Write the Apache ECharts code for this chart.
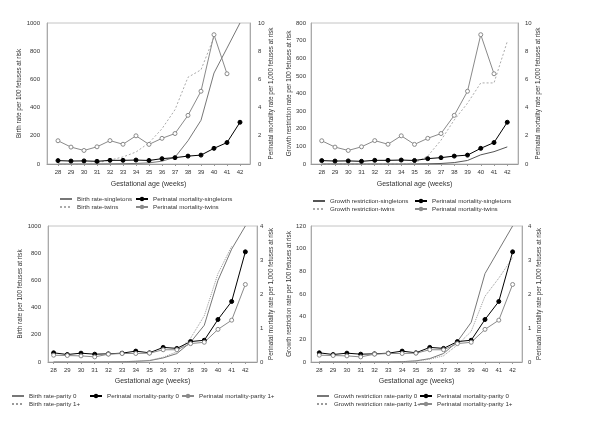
<!DOCTYPE html>
<html>
<head>
<meta charset="utf-8">
<script src="https://cdn.jsdelivr.net/npm/echarts@6/dist/echarts.min.js"></script>
<style>html,body{margin:0;padding:0;background:#fff}#c{width:600px;height:423px}</style>
</head>
<body>
<div id="c"></div>
<script>
// ---- data ----
const weeks = [28,29,30,31,32,33,34,35,36,37,38,39,40,41,42];

// Panel 1: birth rate per 100 fetuses at risk / perinatal mortality per 1,000
const birthSingletons = [0,0,0,0,1,2,4,8,20,48,165,310,645,822,1000];
const birthTwins = [0,0,0,8,28,50,85,150,250,385,615,668,900,null,null];
const mortSingletons = [0.24,0.21,0.22,0.19,0.26,0.26,0.28,0.25,0.38,0.45,0.56,0.63,1.11,1.52,2.96];
const mortTwins = [1.65,1.2,0.96,1.22,1.66,1.4,2.0,1.39,1.82,2.16,3.45,5.16,9.17,6.4,null];

// Panel 2: growth restriction rate per 100 fetuses at risk
const growthSingletons = [0,0,0,0,0,0,0,0,1,3,8,20,52,70,97];
const growthTwins = [0,0,0,0,0,0,1,6,45,135,250,345,460,460,695];

// Panel 3/4: parity
const birthParity0 = [0,0,0,0,1,2,5,10,30,62,145,270,600,830,1000];
const birthParity1 = [0,0,0,0,1,2,6,12,35,75,175,340,650,850,null];
const growthParity0 = [0,0,0,0,0,0,0.3,1,3,7.5,18,35,78,99,120];
const growthParity1 = [0,0,0,0,0,0,0.3,0.8,2.5,5.5,15,27,58,74,92];
const mortParity0 = [0.27,0.22,0.26,0.23,0.24,0.26,0.32,0.27,0.43,0.4,0.6,0.64,1.25,1.78,3.24];
const mortParity1 = [0.2,0.19,0.18,0.15,0.23,0.25,0.25,0.26,0.36,0.36,0.54,0.58,0.96,1.23,2.28];

// ---- helpers ----
const FONT = 'Liberation Sans';
const TXT = '#333';
function pts(arr){ const o=[]; arr.forEach((v,i)=>{ if(v!=null) o.push([weeks[i], v]); }); return o; }

const grids = [
  {left:47, top:23, width:203, height:141},
  {left:311, top:23, width:207, height:141},
  {left:48, top:226, width:209, height:136},
  {left:311, top:226, width:211, height:136}
].map(g=>Object.assign({show:true, borderColor:'#c4c4c4', borderWidth:1, backgroundColor:'transparent'}, g));

const xr = [[27.154,42.77],[27.19,42.81],[27.59,42.85],[27.4,42.68]];
const xGap = [16.5,16.5,15.5,15.5];
const xAxes = xr.map((r,i)=>({
  type:'value', gridIndex:i, min:r[0], max:r[1],
  name:'Gestational age (weeks)', nameLocation:'middle', nameGap:xGap[i],
  nameTextStyle:{fontFamily:FONT, fontSize:7, color:TXT},
  axisLine:{show:true, onZero:false, lineStyle:{color:'#999', width:1}},
  axisTick:{show:true, length:2, customValues:weeks, lineStyle:{color:'#999'}},
  axisLabel:{customValues:weeks, fontFamily:FONT, fontSize:6, color:TXT, margin:5},
  splitLine:{show:false}
}));

function yAx(grid, pos, max, interval, name, gap, margin){
  return {
    type:'value', gridIndex:grid, position:pos, min:0, max:max, interval:interval,
    name:name, nameLocation:'middle', nameRotate:90, nameGap:gap,
    nameTextStyle:{fontFamily:FONT, fontSize:6.3, color:TXT},
    axisLine:{show:true, lineStyle:{color:'#aaa', width:1}},
    axisTick:{show:false},
    axisLabel:{fontFamily:FONT, fontSize:6, color:TXT, margin:margin, formatter:v=>String(v)},
    splitLine:{show:false}
  };
}
const RT = 'Perinatal mortality rate per 1,000 fetuses at risk';
const yAxes = [
  yAx(0,'left',1000,200,'Birth rate per 100 fetuses at risk',22.5,7),
  yAx(0,'right',10,2,RT,16.5,8),
  yAx(1,'left',800,100,'Growth restriction rate per 100 fetuses at risk',17.5,5),
  yAx(1,'right',10,2,RT,15.5,7),
  yAx(2,'left',1000,200,'Birth rate per 100 fetuses at risk',23.5,7),
  yAx(2,'right',4,1,RT,11.5,3),
  yAx(3,'left',120,20,'Growth restriction rate per 100 fetuses at risk',17.5,5),
  yAx(3,'right',4,1,RT,14.5,6)
];

function rateLine(name, p, arr, type, color){
  return {type:'line', name:name, xAxisIndex:p, yAxisIndex:2*p, data:pts(arr),
    showSymbol:false, symbol:'none', animation:false, z:2,
    lineStyle:{color:color, width:1, type:type}, itemStyle:{color:color}};
}
function mortLine(name, p, arr, filled){
  const c = filled ? '#000' : '#8a8a8a';
  return {type:'line', name:name, xAxisIndex:p, yAxisIndex:2*p+1, data:pts(arr),
    symbol:'circle', symbolSize:4, showSymbol:true, animation:false, z:3,
    lineStyle:{color:c, width:1},
    itemStyle:{color: filled ? '#000' : '#fff', borderColor:c, borderWidth:1}};
}

const series = [
  rateLine('Birth rate-singletons',0,birthSingletons,'solid','#777'),
  rateLine('Birth rate-twins',0,birthTwins,[2,2],'#aaa'),
  mortLine('Perinatal mortality-singletons',0,mortSingletons,true),
  mortLine('Perinatal mortality-twins',0,mortTwins,false),

  rateLine('Growth restriction-singletons',1,growthSingletons,'solid','#555'),
  rateLine('Growth restriction-twins',1,growthTwins,[2,2],'#aaa'),
  mortLine('Perinatal mortality-singletons',1,mortSingletons,true),
  mortLine('Perinatal mortality-twins',1,mortTwins,false),

  rateLine('Birth rate-parity 0',2,birthParity0,'solid','#777'),
  rateLine('Birth rate-parity 1+',2,birthParity1,'dotted','#999'),
  mortLine('Perinatal mortality-parity 0',2,mortParity0,true),
  mortLine('Perinatal mortality-parity 1+',2,mortParity1,false),

  rateLine('Growth restriction rate-parity 0',3,growthParity0,'solid','#777'),
  rateLine('Growth restriction rate-parity 1+',3,growthParity1,'dotted','#999'),
  mortLine('Perinatal mortality-parity 0',3,mortParity0,true),
  mortLine('Perinatal mortality-parity 1+',3,mortParity1,false)
];

function leg(name, left, top, rate){
  const o = {data:[name], left:left, top:top, padding:0, itemWidth:12, itemHeight:3, itemGap:0,
    selectedMode:false, textStyle:{fontFamily:FONT, fontSize:6.2, color:TXT}};
  if (rate) o.itemStyle = {opacity:0};
  return o;
}
const legends = [
  leg('Birth rate-singletons',59,196,true), leg('Perinatal mortality-singletons',135,196),
  leg('Birth rate-twins',59,204,true), leg('Perinatal mortality-twins',135,204),
  leg('Growth restriction-singletons',312,198,true), leg('Perinatal mortality-singletons',414,198),
  leg('Growth restriction-twins',312,206,true), leg('Perinatal mortality-twins',414,206),
  leg('Birth rate-parity 0',11,393,true), leg('Perinatal mortality-parity 0',89,393),
  leg('Perinatal mortality-parity 1+',181,393), leg('Birth rate-parity 1+',11,401,true),
  leg('Growth restriction rate-parity 0',316,393,true), leg('Perinatal mortality-parity 0',419,393),
  leg('Growth restriction rate-parity 1+',316,401,true), leg('Perinatal mortality-parity 1+',419,401)
];

const chart = echarts.init(document.getElementById('c'), null, {renderer:'canvas'});
chart.setOption({
  animation:false,
  backgroundColor:'#fff',
  grid:grids, xAxis:xAxes, yAxis:yAxes, series:series, legend:legends
});
</script>
</body>
</html>
